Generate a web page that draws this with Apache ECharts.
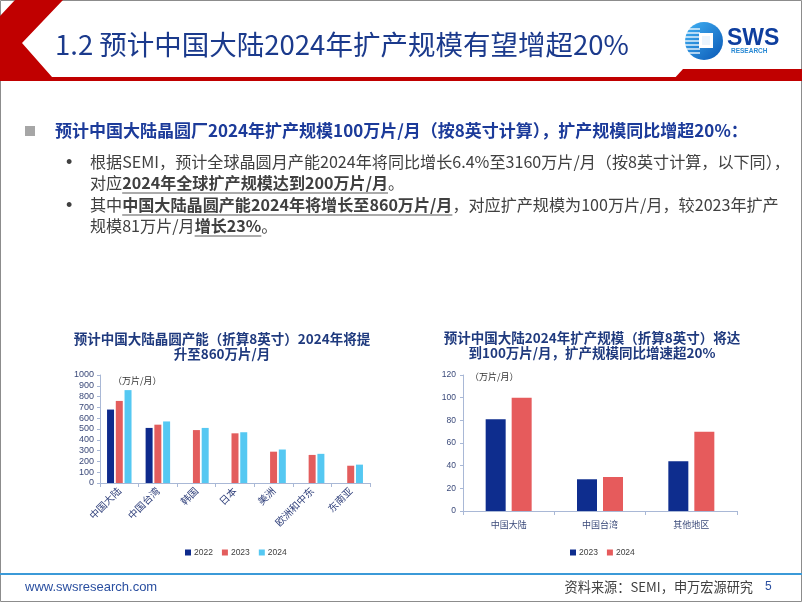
<!DOCTYPE html>
<html><head><meta charset="utf-8">
<script src="https://cdn.jsdelivr.net/npm/echarts/dist/echarts.min.js"></script>
<style>html,body{margin:0;padding:0;background:#fff}#c{width:802px;height:602px}</style>
</head><body><div id="c"></div><script>
// ---- data ----
const capRegions = ['中国大陆','中国台湾','韩国','日本','美洲','欧洲和中东','东南亚'];
const cap2022 = [680, 510, null, null, null, null, null];
const cap2023 = [760, 540, 490, 460, 290, 260, 160];
const cap2024 = [860, 570, 510, 470, 310, 270, 170];
const capYears = ['2022','2023','2024'];
const expRegions = ['中国大陆','中国台湾','其他地区'];
const exp2023 = [81, 28, 44];
const exp2024 = [100, 30, 70];
const expYears = ['2023','2024'];
const capAxis = {min: 0, max: 1000, interval: 100};
const expAxis = {min: 0, max: 120, interval: 20};

// ---- helpers ----
const FONT = '"Noto Sans CJK SC","Noto Sans",sans-serif';
const NUMF = '"Liberation Sans",Arial,sans-serif';
const ctx = document.createElement('canvas').getContext('2d');
function mw(t, size, bold){ ctx.font = (bold?'bold ':'') + size + 'px ' + FONT; return ctx.measureText(t).width; }
const els = [];
function txt(t, x, y, size, color, bold, align, family){
  els.push({type:'text', x:x, y:y, z:10, style:{text:t, font:(bold?'bold ':'') + size + 'px ' + (family||FONT),
    fill:color, textAlign:align||'left', align:align||'left', textVerticalAlign:'middle', verticalAlign:'middle'}});
}
function seg(segs, x, y, size, color){
  let cx = x;
  segs.forEach(s => {
    const w = mw(s.t, size, s.b);
    txt(s.t, cx, y, size, color, s.b);
    if (s.u) els.push({type:'line', z:10, shape:{x1:cx, y1:y+size*0.62, x2:cx+w, y2:y+size*0.62}, style:{stroke:'#595959', lineWidth:1.2}});
    cx += w;
  });
}

// ---- slide decoration ----
els.push({type:'rect', shape:{x:0.5,y:0.5,width:801,height:601}, style:{fill:'none', stroke:'#8c8c8c', lineWidth:1}});
els.push({type:'polygon', shape:{points:[[15,0],[63,0],[22,43],[52,77],[802,77],[802,81],[0,81],[0,16]]}, style:{fill:'#c00000'}});
els.push({type:'polygon', shape:{points:[[683,69],[802,69],[802,81],[672,81]]}, style:{fill:'#c00000'}});
txt('1.2 预计中国大陆2024年扩产规模有望增超20%', 55, 45, 27.5, '#1b3a8c', false);
// logo
els.push({type:'circle', shape:{cx:704, cy:41, r:19}, style:{fill:{type:'linear',x:0,y:0,x2:1,y2:1,colorStops:[{offset:0,color:'#41b3f5'},{offset:1,color:'#0a57b5'}]}}});
[29,33,37,41,45,49,53].forEach(yy => els.push({type:'line', shape:{x1:685,y1:yy,x2:700,y2:yy}, style:{stroke:'#ffffff', lineWidth:1.3}}));
els.push({type:'rect', shape:{x:699,y:33,width:14,height:15}, style:{fill:'#ffffff'}});
els.push({type:'rect', shape:{x:702,y:36,width:8,height:9}, style:{fill:'#eaf4fd'}});
txt('SWS', 727, 39, 23, '#0e3e9e', true, 'left', NUMF);
txt('RESEARCH', 731, 51, 6.5, '#2a8ad4', true, 'left', NUMF);

// ---- bullets ----
els.push({type:'rect', shape:{x:25,y:126,width:10,height:10}, style:{fill:'#a6a6a6'}});
txt('预计中国大陆晶圆厂2024年扩产规模100万片/月（按8英寸计算），扩产规模同比增超20%：', 55, 131, 17, '#1c3b9a', true);
const G = '#404040';
txt('•', 66, 163, 18, G, false, 'left', NUMF);
seg([{t:'根据SEMI，预计全球晶圆月产能2024年将同比增长6.4%至3160万片/月（按8英寸计算，以下同），'}], 90, 162, 16.1, G);
seg([{t:'对应'},{t:'2024年全球扩产规模达到200万片/月',b:true,u:true},{t:'。'}], 90, 183, 16.1, G);
txt('•', 66, 206, 18, G, false, 'left', NUMF);
seg([{t:'其中'},{t:'中国大陆晶圆产能2024年将增长至860万片/月',b:true,u:true},{t:'，对应扩产规模为100万片/月，较2023年扩产'}], 90, 205, 16.1, G);
seg([{t:'规模81万片/月'},{t:'增长23%',b:true,u:true},{t:'。'}], 90, 226, 16.1, G);

// ---- chart titles / units ----
const TC = '#1f3a7e';
txt('预计中国大陆晶圆产能（折算8英寸）2024年将提', 222, 339, 13.5, TC, true, 'center');
txt('升至860万片/月', 222, 354, 13.5, TC, true, 'center');
txt('预计中国大陆2024年扩产规模（折算8英寸）将达', 592, 338, 13.5, TC, true, 'center');
txt('到100万片/月，扩产规模同比增速超20%', 592, 353, 13.5, TC, true, 'center');
txt('（万片/月）', 113, 381, 9, '#333333', false);
txt('（万片/月）', 470, 377, 9, '#333333', false);

// ---- footer ----
els.push({type:'line', shape:{x1:0,y1:574,x2:802,y2:574}, style:{stroke:'#3b9ad8', lineWidth:2}});
txt('www.swsresearch.com', 25, 587, 13, '#2a4fa0', false, 'left', NUMF);
txt('资料来源：SEMI，申万宏源研究', 753, 587, 13.2, '#404040', false, 'right');
txt('5', 765, 587, 12, '#2a4fa0', false, 'left', NUMF);

// ---- chart ----
const AX = '#a9b8d6';
const LBL = '#3b4a7a';
const chart = echarts.init(document.getElementById('c'), null, {renderer:'canvas'});
const capColors = ['#0e2a8c','#e35d5d','#55c8f2'];
const expColors = ['#0e2d8e','#e65b5c'];
const capData = [cap2022, cap2023, cap2024];
const expData = [exp2023, exp2024];
chart.setOption({
  animation: false,
  grid: [
    {left:100, top:375, width:270, height:108},
    {left:463, top:375, width:274, height:136}
  ],
  xAxis: [
    {gridIndex:0, type:'category', data:capRegions,
     axisLine:{lineStyle:{color:AX}}, axisTick:{show:true, length:4, lineStyle:{color:AX}},
     axisLabel:{rotate:45, interval:0, fontSize:10, color:'#2f3f7a', margin:6, fontFamily:FONT}},
    {gridIndex:1, type:'category', data:expRegions,
     axisLine:{lineStyle:{color:AX}}, axisTick:{show:true, length:4, lineStyle:{color:AX}},
     axisLabel:{interval:0, fontSize:9, color:LBL, margin:9, fontFamily:FONT}}
  ],
  yAxis: [
    {gridIndex:0, type:'value', min:capAxis.min, max:capAxis.max, interval:capAxis.interval,
     axisLine:{show:true, lineStyle:{color:AX}}, axisTick:{show:true, length:3, lineStyle:{color:AX}},
     splitLine:{show:false}, axisLabel:{fontSize:9, color:LBL, margin:6, fontFamily:NUMF, formatter: v => String(v)}},
    {gridIndex:1, type:'value', min:expAxis.min, max:expAxis.max, interval:expAxis.interval,
     axisLine:{show:true, lineStyle:{color:AX}}, axisTick:{show:true, length:3, lineStyle:{color:AX}},
     splitLine:{show:false}, axisLabel:{fontSize:8.5, color:LBL, margin:7, fontFamily:NUMF, formatter: v => String(v)}}
  ],
  legend: [
    {data:capYears, left:180, top:543, icon:'rect', itemWidth:6, itemHeight:6, itemGap:9, selectedMode:false,
     textStyle:{fontSize:8.5, color:'#404040', fontFamily:NUMF, padding:[0,0,0,-2]}},
    {data:expYears.map(y => y + ' '), left:565, top:543, icon:'rect', itemWidth:6, itemHeight:6, itemGap:9, selectedMode:false,
     formatter: n => n.trim(), textStyle:{fontSize:8.5, color:'#404040', fontFamily:NUMF, padding:[0,0,0,-2]}}
  ],
  series: capYears.map((y, i) => ({
      name:y, type:'bar', xAxisIndex:0, yAxisIndex:0, data:capData[i], barWidth:7, barGap:'25%',
      itemStyle:{color:capColors[i]}
    })).concat(expYears.map((y, i) => ({
      name:y + ' ', type:'bar', xAxisIndex:1, yAxisIndex:1, data:expData[i], barWidth:20, barGap:'30%',
      itemStyle:{color:expColors[i]}
    }))),
  graphic: {elements: els}
});
</script></body></html>
